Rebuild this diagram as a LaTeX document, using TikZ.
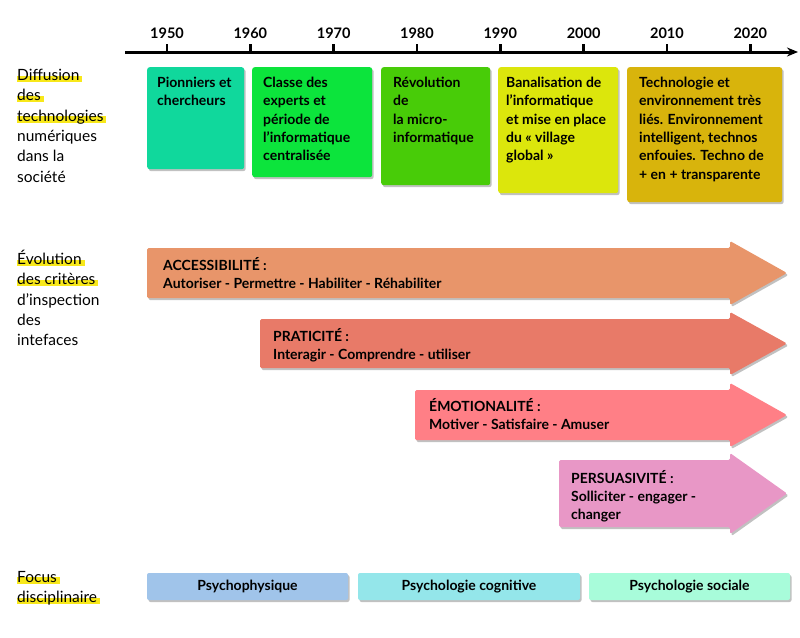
\documentclass[tikz,border=0pt]{standalone}
\usepackage{fontspec}
\setmainfont{Lato}
\usetikzlibrary{arrows.meta,shadows,positioning}

\definecolor{perA}{HTML}{10D89C}
\definecolor{perB}{HTML}{0CE43C}
\definecolor{perC}{HTML}{48CC08}
\definecolor{perD}{HTML}{DCE60C}
\definecolor{perE}{HTML}{D8B40C}
\definecolor{critA}{HTML}{E8956A}
\definecolor{critB}{HTML}{E87A68}
\definecolor{critC}{HTML}{FF7F86}
\definecolor{critD}{HTML}{E897C6}
\definecolor{focA}{HTML}{A0C4EA}
\definecolor{focB}{HTML}{94E6EA}
\definecolor{focC}{HTML}{A8FCDA}
\definecolor{surligneur}{HTML}{F8E81A}

\newlength\surlargeur
\newcommand\surligne[1]{\settowidth\surlargeur{#1}%
  \rlap{\color{surligneur}\rule[-1.5pt]{\dimexpr\surlargeur+3pt\relax}{6.5pt}}#1}

\tikzset{
  ombre/.style={drop shadow={shadow xshift=1.5pt, shadow yshift=-2pt, opacity=0.35, fill=black!70}},
  periode/.style={fill=#1, rounded corners=2.5pt, ombre, anchor=north west, inner sep=0},
  texte/.style={anchor=north west, align=left, inner sep=0, font=\bfseries\fontsize{14}{18.3}\selectfont},
  etiquette/.style={anchor=north west, align=left, inner sep=0, font=\fontsize{15.5}{20.3}\selectfont},
  focus/.style={fill=#1, rounded corners=2pt, ombre, minimum height=27pt, inner sep=0, font=\bfseries\fontsize{14}{16}\selectfont},
  annee/.style={font=\bfseries\fontsize{14.5}{16}\selectfont, inner sep=0}
}

\begin{document}
\begin{tikzpicture}[x=1pt,y=-1pt]
  \useasboundingbox (0,0) rectangle (800,637);
  % axe du temps, 1950 -> 2020
  \draw[line width=3pt, -{Stealth[length=11pt,width=9pt]}] (125,52) -- (798,52);
  \foreach \an [count=\i from 0] in {1950,1960,...,2020} {
    \draw[line width=2.5pt] ({167+83.33*\i},44) -- ({167+83.33*\i},52);
    \node[annee] (an\an) at ({167+83.33*\i},33) {\an};
  }

  % libelles de gauche
  \node[etiquette] (diffusion) at (17,69) {\surligne{Diffusion}\\ \surligne{des}\\ \surligne{technologies}\\ numériques\\ dans la\\ société};
  \node[etiquette] (evolution) at (17,250) {\surligne{Évolution}\\ \surligne{des critères}\\ d’inspection\\ des\\ intefaces};
  \node[etiquette] (discipline) at (17,571) {\surligne{Focus}\\ \surligne{disciplinaire}};

  % periodes
  \node[periode=perA, minimum width=97pt, minimum height=102pt] (pA) at (147,67) {};
  \node[periode=perB, minimum width=120pt, minimum height=110pt] (pB) at (252,67) {};
  \node[periode=perC, minimum width=109pt, minimum height=118pt] (pC) at (381,67) {};
  \node[periode=perD, minimum width=120pt, minimum height=126pt] (pD) at (498,67) {};
  \node[periode=perE, minimum width=155pt, minimum height=135pt] (pE) at (627,67) {};
  \node[texte] (tA) at ([shift={(10pt,-10pt)}]pA.north west) {Pionniers et\\ chercheurs};
  \node[texte] (tB) at ([shift={(11pt,-10pt)}]pB.north west) {Classe des\\ experts et\\ période de\\ l’informatique\\ centralisée};
  \node[texte] (tC) at ([shift={(12pt,-10pt)}]pC.north west) {Révolution\\ de\\ la micro-\\ informatique};
  \node[texte] (tD) at ([shift={(8pt,-10pt)}]pD.north west) {Banalisation de\\ l’informatique\\ et mise en place\\ du « village\\ global »};
  \node[texte] (tE) at ([shift={(12pt,-10pt)}]pE.north west) {Technologie et\\ environnement très\\ liés. Environnement\\ intelligent, technos\\ enfouies. Techno de\\ + en + transparente};

  % fleches des criteres
  \foreach \xa/\yh/\yb/\col in {147/248/298/critA, 260/319/368/critB, 415/390/440/critC, 559/460/527/critD}
    \path[fill=\col, rounded corners=1.5pt, ombre] (\xa,\yh) -- (730,\yh) -- (730,\yh-7) -- (787,{(\yh+\yb)/2})
      -- (730,\yb+7) -- (730,\yb) -- (\xa,\yb) -- cycle;
  \node[texte] (accessibilite) at (163,257) {ACCESSIBILITÉ :\\ Autoriser - Permettre - Habiliter - Réhabiliter};
  \node[texte] (praticite) at (273,328) {PRATICITÉ :\\ Interagir - Comprendre - utiliser};
  \node[texte] (emotionalite) at (429,398) {ÉMOTIONALITÉ :\\ Motiver - Satisfaire - Amuser};
  \node[texte] (persuasivite) at (571,470) {PERSUASIVITÉ :\\ Solliciter - engager -\\ changer};

  % focus disciplinaire
  \node[focus=focA, minimum width=201pt] (psyA) at (247.5,586.5) {Psychophysique};
  \node[focus=focB, minimum width=222pt] (psyB) at (469,586.5) {Psychologie cognitive};
  \node[focus=focC, minimum width=201pt] (psyC) at (689.5,586.5) {Psychologie sociale};
\end{tikzpicture}
\end{document}
